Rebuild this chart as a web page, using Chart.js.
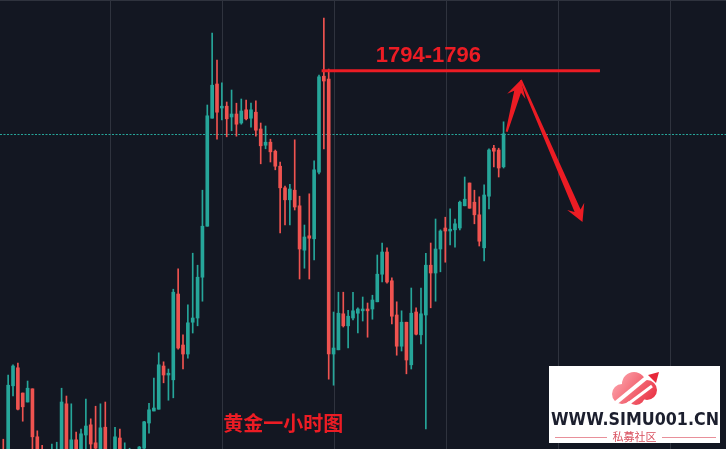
<!DOCTYPE html>
<html><head><meta charset="utf-8">
<script src="https://cdn.jsdelivr.net/npm/chart.js@4.4.1/dist/chart.umd.min.js"></script>
<style>html,body{margin:0;padding:0;background:#131722;overflow:hidden}#c{display:block}</style>
</head><body><canvas id="c" width="726" height="449"></canvas>
<script>
// Gold 1h candles (OHLC)
const opens=[1731.2,1730.0,1742.7,1745.7,1741.5,1740.0,1742.2,1734.2,1731.7,1730.0,
1728.7,1728.7,1730.3,1739.7,1730.7,1733.7,1731.2,1734.5,1736.2,1733.2,
1731.2,1735.8,1730.0,1731.2,1734.0,1730.0,1729.5,1730.0,1730.3,1732.3,
1736.5,1738.5,1738.8,1746.0,1744.5,1743.7,1758.0,1749.5,1748.0,1753.3,
1754.0,1760.8,1769.3,1787.3,1793.0,1789.0,1789.3,1787.5,1788.0,1786.5,
1788.7,1787.3,1788.3,1785.5,1782.8,1783.3,1781.8,1779.3,1775.7,1773.7,
1775.3,1772.7,1765.3,1767.7,1767.2,1778.3,1794.3,1793.8,1748.0,1748.7,
1754.7,1752.7,1754.0,1754.8,1755.2,1755.5,1755.5,1756.7,1761.3,1765.0,
1760.2,1754.5,1749.3,1753.3,1746.2,1755.0,1751.2,1754.5,1762.8,1761.5,
1765.5,1769.0,1768.5,1768.7,1769.0,1772.7,1776.5,1773.3,1771.2,1765.7,
1774.3,1782.3,1782.0,1779.2];
const highs=[1733.8,1744.5,1746.2,1746.5,1741.5,1743.5,1742.2,1735.2,1732.8,1731.2,
1733.0,1733.3,1742.3,1741.0,1739.7,1735.0,1735.5,1740.5,1737.2,1739.3,
1739.7,1740.0,1731.7,1735.8,1735.5,1733.2,1732.3,1731.7,1732.6,1736.8,
1739.8,1744.0,1748.2,1746.7,1745.5,1758.8,1762.2,1751.2,1756.2,1764.8,
1762.8,1775.3,1789.5,1801.5,1797.0,1793.2,1790.0,1792.0,1789.8,1790.5,
1790.3,1789.8,1790.2,1786.5,1786.0,1783.8,1782.0,1780.0,1776.0,1776.3,
1783.7,1774.3,1769.5,1774.7,1780.2,1794.5,1804.0,1795.5,1755.0,1758.3,
1758.3,1755.3,1758.3,1755.7,1757.5,1756.5,1757.8,1764.5,1766.5,1765.7,
1760.7,1756.7,1755.2,1753.3,1759.0,1755.7,1759.0,1764.8,1766.5,1770.5,
1768.7,1770.8,1772.2,1770.5,1773.5,1777.5,1776.5,1775.3,1774.2,1776.2,
1782.2,1782.8,1782.3,1786.7];
const lows=[1729.3,1729.3,1741.0,1738.7,1736.8,1740.0,1731.7,1730.3,1729.0,1727.8,
1728.0,1728.3,1730.0,1730.3,1730.0,1731.0,1730.7,1731.7,1731.2,1732.0,
1730.7,1730.7,1729.3,1730.7,1731.2,1729.5,1729.0,1728.7,1730.0,1731.8,
1734.8,1738.5,1738.8,1743.2,1740.3,1740.7,1748.8,1745.5,1747.3,1751.5,
1752.7,1756.8,1769.3,1787.3,1783.8,1787.0,1784.2,1785.2,1784.3,1786.3,
1787.0,1785.8,1784.3,1779.7,1782.2,1780.0,1778.7,1768.2,1769.5,1769.5,
1772.0,1760.5,1762.3,1760.5,1763.7,1778.0,1782.2,1743.8,1742.8,1748.7,
1752.5,1749.0,1753.7,1751.5,1753.5,1750.8,1753.8,1756.7,1760.0,1759.8,
1753.0,1747.8,1748.5,1744.7,1745.5,1751.2,1749.7,1735.5,1755.7,1756.8,
1761.7,1763.3,1766.2,1765.8,1768.7,1772.7,1772.3,1769.7,1766.0,1763.5,
1772.2,1779.2,1777.5,1779.0];
const closes=[1730.0,1742.8,1746.0,1738.8,1739.2,1742.3,1734.2,1731.2,1730.0,1728.7,
1731.7,1731.2,1740.0,1731.2,1733.7,1731.7,1734.7,1736.0,1733.0,1732.3,
1735.7,1731.7,1731.8,1734.2,1731.7,1731.7,1731.2,1730.7,1732.5,1736.7,
1738.7,1739.0,1746.2,1744.5,1744.8,1758.3,1749.0,1748.0,1753.2,1754.0,
1760.8,1769.3,1787.7,1792.8,1788.3,1789.3,1787.2,1788.0,1786.3,1788.5,
1787.2,1788.7,1785.3,1782.7,1783.3,1781.7,1779.3,1775.7,1773.7,1775.5,
1772.5,1765.5,1767.5,1767.3,1778.7,1794.2,1793.5,1748.0,1749.0,1754.8,
1752.7,1754.3,1755.2,1755.5,1755.5,1755.2,1757.0,1761.3,1765.0,1760.0,
1754.3,1749.3,1753.3,1747.0,1754.8,1751.3,1754.7,1762.8,1761.5,1765.5,
1768.5,1768.5,1768.8,1769.7,1773.3,1773.8,1772.3,1771.2,1766.8,1774.5,
1782.0,1781.8,1779.0,1784.7];
// day separators (bar index), target zone and labels
const dayTicks=[22.17,45.2,68.23,91.26,114.29,137.32];
const targetPrice=1795.2;
const targetLabel='1794-1796';
const chartTitle='黄金一小时图';
const upArrow=[[103.64,1785.05],[106.56,1793.67]];
const downArrow=[[106.56,1793.67],[119.25,1770.0]];
const targetSpan=[65.55,122.85];
const labelPos=[76.7,1796.67];
const titlePos=[45.3,1736.5];

const UP='#26a69a', DOWN='#ef5350', RED='#ec1c24';
const idx=opens.map((_,i)=>i);
const cols=idx.map(i=>closes[i]>=opens[i]?UP:DOWN);

function drawArrow(ctx,x0,y0,x1,y1,headLen,headHalf,tailW,neckW){
  const dx=x1-x0,dy=y1-y0,L=Math.hypot(dx,dy),ux=dx/L,uy=dy/L,px=-uy,py=ux;
  const nx=x1-ux*headLen*0.72, ny=y1-uy*headLen*0.72;
  const bx=x1-ux*headLen, by=y1-uy*headLen;
  ctx.beginPath();
  ctx.moveTo(x0+px*tailW/2,y0+py*tailW/2);
  ctx.lineTo(nx+px*neckW/2,ny+py*neckW/2);
  ctx.lineTo(bx+px*headHalf,by+py*headHalf);
  ctx.lineTo(x1,y1);
  ctx.lineTo(bx-px*headHalf,by-py*headHalf);
  ctx.lineTo(nx-px*neckW/2,ny-py*neckW/2);
  ctx.lineTo(x0-px*tailW/2,y0-py*tailW/2);
  ctx.closePath(); ctx.fill();
}

const overlay={
  id:'overlay',
  beforeDraw(chart){const c=chart.ctx;c.save();c.fillStyle='#131722';c.fillRect(0,0,chart.width,chart.height);c.restore();},
  beforeDatasetsDraw(chart){
    const c=chart.ctx,y=chart.scales.y,a=chart.chartArea;
    const py=Math.round(y.getPixelForValue(closes[closes.length-1]))+0.5;
    c.save();c.strokeStyle=UP;c.lineWidth=1;c.setLineDash([2,1.5]);
    c.beginPath();c.moveTo(a.left,py);c.lineTo(a.right,py);c.stroke();c.restore();
  },
  afterDatasetsDraw(chart){
    const c=chart.ctx,x=chart.scales.x,y=chart.scales.y;
    const X=v=>x.getPixelForValue(v),Y=v=>y.getPixelForValue(v);
    c.save();
    c.fillStyle=RED;c.strokeStyle=RED;
    c.lineWidth=3;c.beginPath();c.moveTo(X(targetSpan[0]),Y(targetPrice));c.lineTo(X(targetSpan[1]),Y(targetPrice));c.stroke();
    c.font='bold 22px "Liberation Sans", Arial, sans-serif';c.textBaseline='alphabetic';c.textAlign='left';
    c.fillText(targetLabel,X(labelPos[0]),Y(labelPos[1]));
    drawArrow(c,X(upArrow[0][0]),Y(upArrow[0][1]),X(upArrow[1][0]),Y(upArrow[1][1]),17,9.5,2,7);
    drawArrow(c,X(downArrow[0][0]),Y(downArrow[0][1]),X(downArrow[1][0]),Y(downArrow[1][1]),17,9.3,2,6.5);
    c.font='bold 20px "Noto Sans CJK SC", sans-serif';c.textBaseline='middle';
    c.fillText(chartTitle,X(titlePos[0]),Y(titlePos[1]));
    c.restore();
    // watermark logo
    c.save();
    c.fillStyle='#ffffff';c.fillRect(549,366,171,77);
    const g=c.createLinearGradient(610,373,656,405);g.addColorStop(0,'#ffb3ba');g.addColorStop(1,'#e8283a');
    c.fillStyle=g;c.beginPath();
    c.arc(622,394,10,0,Math.PI*2);c.arc(634,384,12,0,Math.PI*2);c.arc(647,390,10,0,Math.PI*2);c.arc(636,396,9,0,Math.PI*2);
    c.fill();
    c.strokeStyle='#ffffff';c.lineWidth=4;c.beginPath();c.moveTo(612,406);c.lineTo(646,378);c.stroke();
    c.lineWidth=3;c.beginPath();c.moveTo(624,407);c.lineTo(652,386);c.stroke();
    c.fillStyle='#e8283a';c.beginPath();c.moveTo(659,372);c.lineTo(648,375);c.lineTo(656,383);c.closePath();c.fill();
    c.fillStyle='#1c1f2e';c.font='bold 18px "DejaVu Sans", sans-serif';c.textBaseline='alphabetic';c.textAlign='left';
    const t='WWW.SIMU001.CN';const w=c.measureText(t).width;
    c.save();c.translate(551,425);c.scale(168/w,1);c.fillText(t,0,0);c.restore();
    c.strokeStyle='#e8909a';c.lineWidth=1;c.beginPath();c.moveTo(555,437.5);c.lineTo(607,437.5);c.moveTo(662,437.5);c.lineTo(716,437.5);c.stroke();
    c.fillStyle='#d9505e';c.font='11px "Noto Sans CJK SC", sans-serif';c.textAlign='center';c.textBaseline='middle';
    c.fillText('私募社区',634.5,437);
    c.restore();
  }
};

new Chart(document.getElementById('c'),{
  type:'bar',
  data:{datasets:[
    {label:'body',order:0,grouped:false,data:idx.map(i=>({x:i,y:[opens[i],closes[i]]})),backgroundColor:cols,barThickness:3,minBarLength:1,borderWidth:0},
    {label:'wick',order:1,grouped:false,data:idx.map(i=>({x:i,y:[lows[i],highs[i]]})),backgroundColor:cols,barThickness:1,borderWidth:0}
  ]},
  options:{
    responsive:false,animation:false,maintainAspectRatio:false,
    layout:{padding:0},
    plugins:{legend:{display:false},tooltip:{enabled:false}},
    scales:{
      x:{type:'linear',min:-0.68,max:148.8,offset:false,
        ticks:{display:false},border:{display:false},
        grid:{color:'#2f333e',drawTicks:false,lineWidth:1,offset:false},
        afterBuildTicks:s=>{s.ticks=dayTicks.map(v=>({value:v}));}},
      y:{type:'linear',min:1732.17,max:1807,
        ticks:{display:false},border:{display:false},
        grid:{color:'#2f333e',drawTicks:false,offset:false},
        afterBuildTicks:s=>{s.ticks=[{value:1806.85}];}}
    }
  },
  plugins:[overlay]
});
</script></body></html>
